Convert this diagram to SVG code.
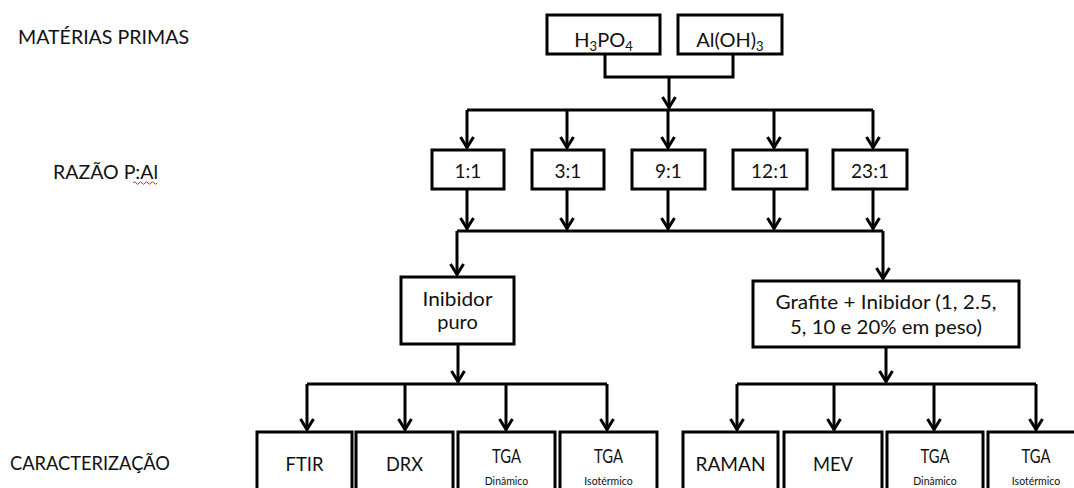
<svg xmlns="http://www.w3.org/2000/svg" width="1074" height="488" viewBox="0 0 1074 488">
<style>
.box{fill:#fff;stroke:#000;stroke-width:3}
.ln{fill:none;stroke:#000;stroke-width:3}
.ar{fill:none;stroke:#000;stroke-width:3;marker-end:url(#ah)}
text{font-family:Lato,"Liberation Sans",sans-serif;fill:#111}
.lbl{font-size:19.5px}
.t{font-size:19px;text-anchor:middle}
.b{font-size:20px;text-anchor:middle}
.s{font-size:10.5px;text-anchor:middle}
</style>
<defs>
<marker id="ah" markerUnits="userSpaceOnUse" markerWidth="16" markerHeight="16" viewBox="-14 -8 16 16" refX="0" refY="0" orient="auto">
<path d="M-11,-6.5 L-0.5,0 L-11,6.5" fill="none" stroke="#000" stroke-width="3"/>
</marker>
</defs>
<rect width="1074" height="488" fill="#fff"/>

<g id="labels">
<text class="lbl" x="18" y="44" textLength="171" lengthAdjust="spacingAndGlyphs">MATÉRIAS PRIMAS</text>
<text class="lbl" x="53" y="179" textLength="105" lengthAdjust="spacingAndGlyphs">RAZÃO P:Al</text>
<path d="M133,183 q1.5,-2.5 3,0 t3,0 t3,0 t3,0 t3,0 t3,0 t3,0 t3,0" fill="none" stroke="#e02020" stroke-width="1"/>
<text class="lbl" x="10" y="470" textLength="160" lengthAdjust="spacingAndGlyphs">CARACTERIZAÇÃO</text>
</g>

<g id="connectors">
<path class="ln" d="M605,54 V77 H733 V54"/>
<path class="ar" d="M669,77 V108"/>
<path class="ln" d="M467,110 H873"/>
<path class="ar" d="M467,110 V148"/>
<path class="ar" d="M567,110 V148"/>
<path class="ar" d="M668,110 V148"/>
<path class="ar" d="M774,110 V148"/>
<path class="ar" d="M873,110 V148"/>
<path class="ar" d="M467,189 V229"/>
<path class="ar" d="M567,189 V229"/>
<path class="ar" d="M668,189 V229"/>
<path class="ar" d="M774,189 V229"/>
<path class="ar" d="M873,189 V229"/>
<path class="ln" d="M457,231 H883"/>
<path class="ar" d="M457,231 V275"/>
<path class="ar" d="M883,231 V279"/>
<path class="ar" d="M458,344 V382"/>
<path class="ar" d="M886,347 V382"/>
<path class="ln" d="M307,384 H607"/>
<path class="ln" d="M737,384 H1036"/>
<path class="ar" d="M307,384 V430"/>
<path class="ar" d="M405,384 V430"/>
<path class="ar" d="M506,384 V430"/>
<path class="ar" d="M607,384 V430"/>
<path class="ar" d="M737,384 V430"/>
<path class="ar" d="M834,384 V430"/>
<path class="ar" d="M934,384 V430"/>
<path class="ar" d="M1036,384 V430"/>
</g>

<g id="h3po4">
<rect class="box" x="547" y="15" width="113" height="39"/>
<text class="b" x="603.5" y="47">H<tspan font-size="13" dy="4">3</tspan><tspan dy="-4">PO</tspan><tspan font-size="13" dy="4">4</tspan></text>
</g>
<g id="aloh3">
<rect class="box" x="678" y="15" width="104" height="39"/>
<text class="b" x="730" y="47">Al(OH)<tspan font-size="13" dy="4">3</tspan></text>
</g>

<g id="r1"><rect class="box" x="432" y="150" width="72" height="39"/><text class="t" x="468" y="178">1:1</text></g>
<g id="r3"><rect class="box" x="532" y="150" width="72" height="39"/><text class="t" x="568" y="178">3:1</text></g>
<g id="r9"><rect class="box" x="632" y="150" width="73" height="39"/><text class="t" x="668.5" y="178">9:1</text></g>
<g id="r12"><rect class="box" x="733" y="150" width="74" height="39"/><text class="t" x="770" y="178">12:1</text></g>
<g id="r23"><rect class="box" x="833" y="150" width="74" height="39"/><text class="t" x="870" y="178">23:1</text></g>

<g id="inibidor">
<rect class="box" x="401" y="277" width="113" height="67"/>
<text class="b" x="457.5" y="306" textLength="70" lengthAdjust="spacingAndGlyphs">Inibidor</text>
<text class="b" x="457.5" y="329">puro</text>
</g>
<g id="grafite">
<rect class="box" x="753" y="281" width="266" height="66"/>
<text class="b" x="886" y="309" textLength="221" lengthAdjust="spacingAndGlyphs">Grafite + Inibidor (1, 2.5,</text>
<text class="b" x="886" y="334" textLength="192" lengthAdjust="spacingAndGlyphs">5, 10 e 20% em peso)</text>
</g>

<g id="ftir"><rect class="box" x="257" y="432" width="95" height="70"/><text class="b" x="304.5" y="471" textLength="38" lengthAdjust="spacingAndGlyphs">FTIR</text></g>
<g id="drx"><rect class="box" x="356" y="432" width="97" height="70"/><text class="b" x="404.5" y="471" textLength="37" lengthAdjust="spacingAndGlyphs">DRX</text></g>
<g id="tga1"><rect class="box" x="458" y="432" width="97" height="70"/><text class="b" x="506.5" y="463" font-size="18" textLength="29" lengthAdjust="spacingAndGlyphs">TGA</text><text class="s" x="506.5" y="485">Dinâmico</text></g>
<g id="tga2"><rect class="box" x="560" y="432" width="97" height="70"/><text class="b" x="608.5" y="463" font-size="18" textLength="29" lengthAdjust="spacingAndGlyphs">TGA</text><text class="s" x="608.5" y="485">Isotérmico</text></g>
<g id="raman"><rect class="box" x="683" y="432" width="95" height="70"/><text class="b" x="730.5" y="471" textLength="70" lengthAdjust="spacingAndGlyphs">RAMAN</text></g>
<g id="mev"><rect class="box" x="784" y="432" width="98" height="70"/><text class="b" x="833" y="471" textLength="40" lengthAdjust="spacingAndGlyphs">MEV</text></g>
<g id="tga3"><rect class="box" x="887" y="432" width="96" height="70"/><text class="b" x="935" y="463" font-size="18" textLength="29" lengthAdjust="spacingAndGlyphs">TGA</text><text class="s" x="935" y="485">Dinâmico</text></g>
<g id="tga4"><rect class="box" x="988" y="432" width="97" height="70"/><text class="b" x="1036" y="463" font-size="18" textLength="29" lengthAdjust="spacingAndGlyphs">TGA</text><text class="s" x="1036" y="485">Isotérmico</text></g>
</svg>
